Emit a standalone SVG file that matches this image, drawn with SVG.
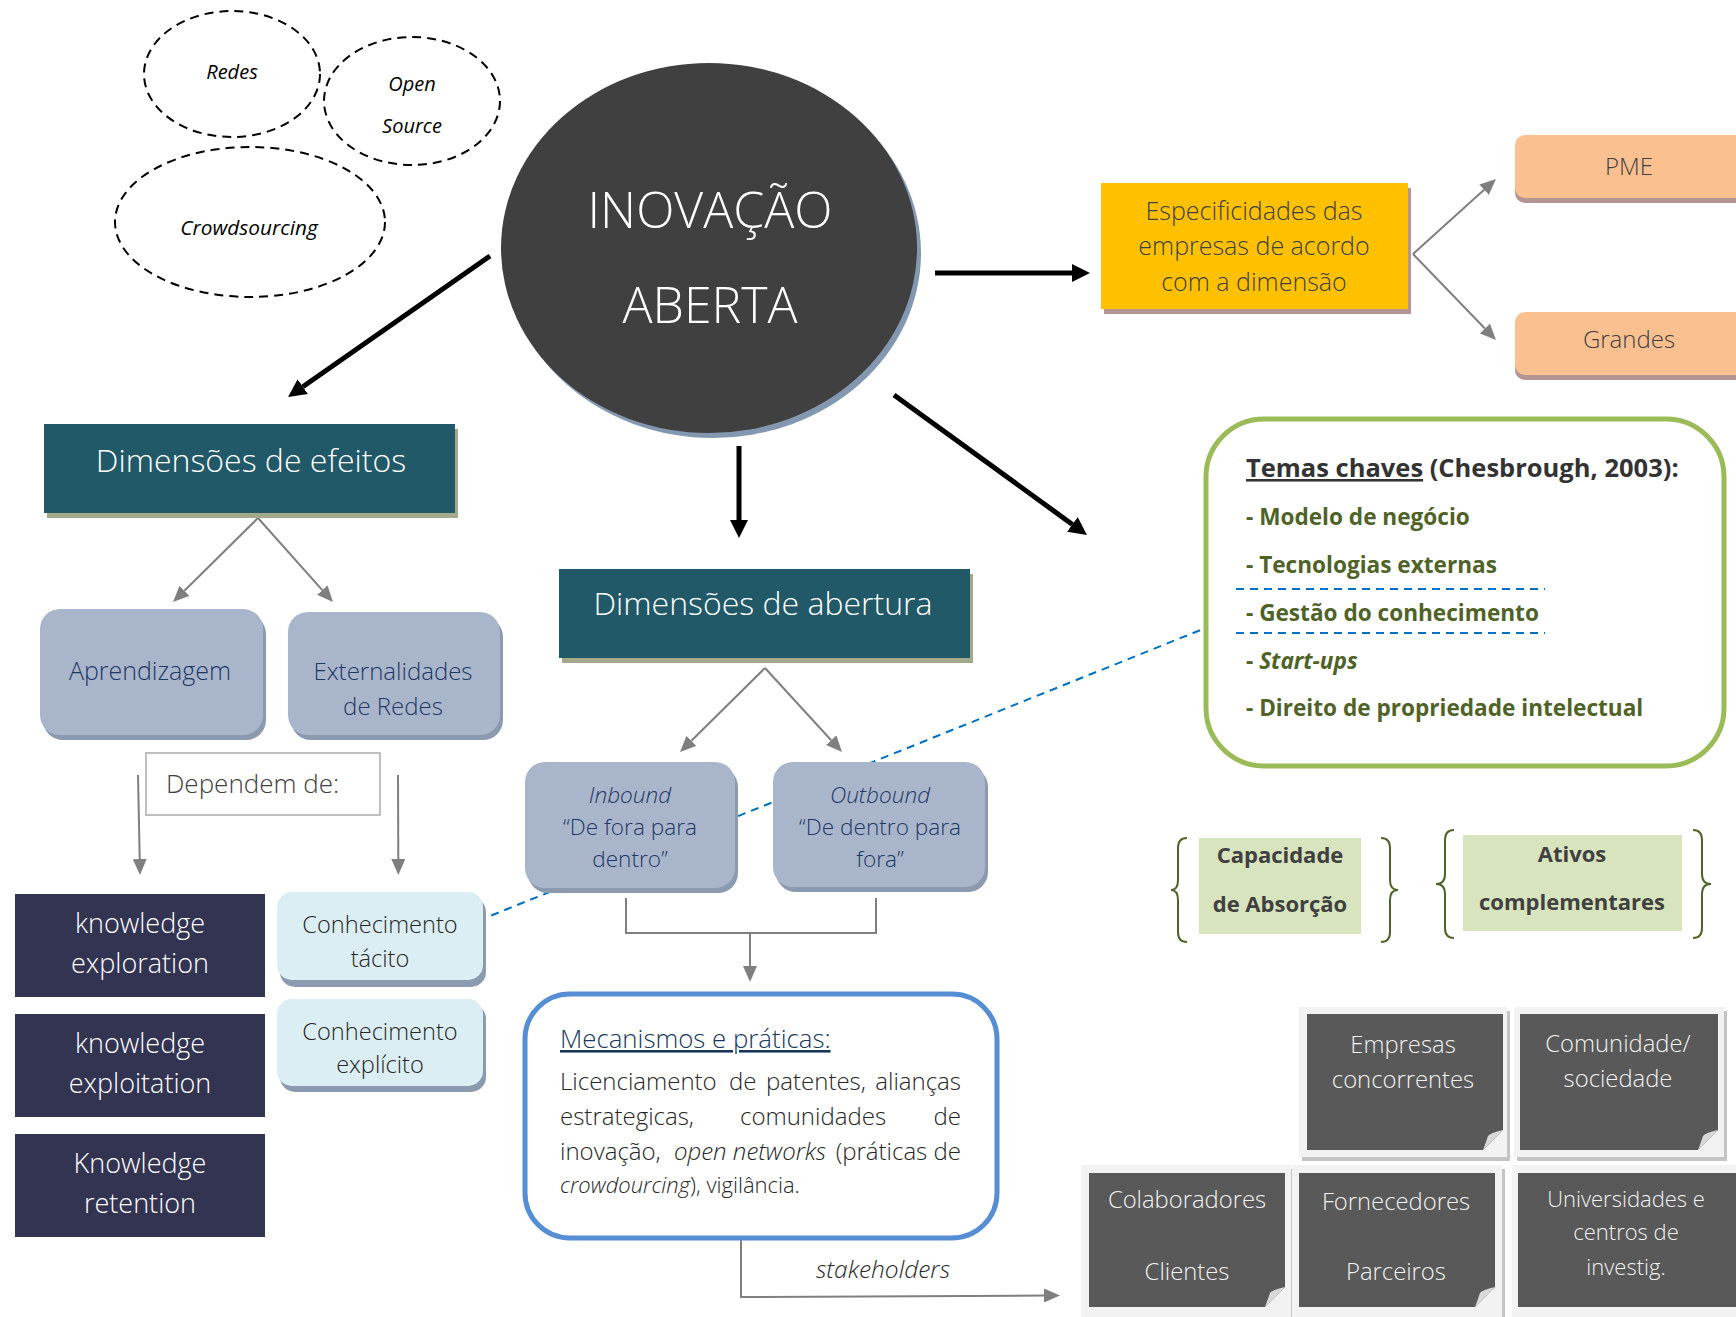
<svg xmlns="http://www.w3.org/2000/svg" width="1736" height="1317" viewBox="0 0 1736 1317">
<defs>
<marker id="ab" markerUnits="userSpaceOnUse" markerWidth="18" markerHeight="18" refX="0" refY="9" orient="auto"><path d="M0,0 L18,9 L0,18 z" fill="#000"/></marker>
<marker id="ag" markerUnits="userSpaceOnUse" markerWidth="16" markerHeight="14" refX="0" refY="7" orient="auto"><path d="M0,0 L16,7 L0,14 z" fill="#7F7F7F"/></marker>
<style>
.f{font-family:"Open Sans","Noto Sans","DejaVu Sans",sans-serif}
.l{font-weight:300}
.b{font-weight:700}
.i{font-style:italic}
.c{text-anchor:middle}
.dash{fill:#fff;stroke:#000;stroke-width:2;stroke-dasharray:9 6}
.blk{stroke:#000;stroke-width:5;fill:none;marker-end:url(#ab)}
.gry{stroke:#7F7F7F;stroke-width:2;fill:none}
.ga{marker-end:url(#ag)}
.teal{fill:#215968}
.tealsh{fill:#A5A98B}
.lav{fill:#A9B5CB}
.lavsh{fill:#8C9AB0}
.lb{fill:#DAEEF3}
.navy{fill:#333452}
.frame{fill:#F2F2F2}
.framesh{fill:#C4C4C4}
.dark{fill:#595959}
.fold{fill:#D9D9D9}
.st{fill:#F2F2F2;font-size:23.8px}
.brace{fill:none;stroke:#4F6228;stroke-width:2}
.ol{fill:#4F6228;font-size:22.6px}
.kn{fill:#fff;font-size:27px}
.cn{fill:#262626;font-size:23.6px}
.io{fill:#1F3864;font-size:22.6px}
</style>
</defs>

<g id="connectors">
<line x1="1213" y1="625" x2="485" y2="918" stroke="#0070C0" stroke-width="2" stroke-dasharray="8 6"/>
<line class="blk" x1="490" y1="256" x2="302.8" y2="386.7"/>
<line class="blk" x1="739" y1="446" x2="739" y2="520"/>
<line class="blk" x1="935" y1="273" x2="1072" y2="273"/>
<line class="blk" x1="894" y1="395" x2="1072.4" y2="524.4"/>
<line class="gry ga" x1="258" y1="518" x2="184.4" y2="590.8"/>
<line class="gry ga" x1="258" y1="518" x2="322.3" y2="590.1"/>
<line class="gry ga" x1="765" y1="668" x2="691.4" y2="740.8"/>
<line class="gry ga" x1="765" y1="668" x2="831.2" y2="740.2"/>
<line class="gry ga" x1="1413" y1="254" x2="1484.1" y2="189.7"/>
<line class="gry ga" x1="1413" y1="254" x2="1484.9" y2="328.5"/>
<line class="gry ga" x1="138" y1="775" x2="139.7" y2="859"/>
<line class="gry ga" x1="398" y1="775" x2="398.3" y2="859"/>
<path class="gry" d="M626,898 V933 H876 V898"/>
<line class="gry ga" x1="750" y1="933" x2="750" y2="966"/>
<path class="gry ga" d="M741,1240 V1297 L1044,1295.5"/>
<text class="f l i" x="883" y="1278" text-anchor="middle" font-size="24.5" fill="#262626">stakeholders</text>
</g>

<g id="redes">
<ellipse class="dash" cx="232" cy="74" rx="88" ry="63"/>
<text class="f i c" x="232" y="79" font-size="20" fill="#000">Redes</text>
</g>
<g id="opensource">
<ellipse class="dash" cx="412" cy="101" rx="88" ry="64"/>
<text class="f i c" x="412" y="91" font-size="20" fill="#000">Open</text>
<text class="f i c" x="412" y="133" font-size="20" fill="#000">Source</text>
</g>
<g id="crowdsourcing">
<ellipse class="dash" cx="250" cy="222" rx="135" ry="75"/>
<text class="f i c" x="249" y="235" font-size="20.8" fill="#000">Crowdsourcing</text>
</g>

<g id="inovacao">
<ellipse cx="713" cy="253" rx="208" ry="185" fill="#8497B0"/>
<ellipse cx="709" cy="248" rx="208" ry="185" fill="#404040"/>
<text class="f l c" x="710" y="228" font-size="50" fill="#fff">INOVAÇÃO</text>
<text class="f l c" x="710" y="323" font-size="50" fill="#fff">ABERTA</text>
</g>

<g id="especificidades">
<rect x="1104" y="188" width="307" height="126" fill="#B39594"/>
<rect x="1101" y="183" width="307" height="126" fill="#FFC000"/>
<text class="f l c" x="1254" y="220" font-size="25" fill="#404040">Especificidades das</text>
<text class="f l c" x="1254" y="255" font-size="25" fill="#404040">empresas de acordo</text>
<text class="f l c" x="1254" y="291" font-size="25" fill="#404040">com a dimensão</text>
</g>
<g id="pme">
<rect x="1515" y="140" width="240" height="63" rx="10" fill="#B39593"/>
<rect x="1515" y="135" width="240" height="63" rx="10" fill="#FAC090"/>
<text class="f l c" x="1629" y="175" font-size="24" fill="#404040">PME</text>
</g>
<g id="grandes">
<rect x="1515" y="317" width="240" height="63" rx="10" fill="#B39593"/>
<rect x="1515" y="312" width="240" height="63" rx="10" fill="#FAC090"/>
<text class="f l c" x="1629" y="348" font-size="24" fill="#404040">Grandes</text>
</g>

<g id="temas">
<rect x="1206" y="419" width="518" height="347" rx="58" fill="#fff" stroke="#9BBB59" stroke-width="5"/>
<text class="f b" x="1246" y="477" font-size="25.5" fill="#333"><tspan text-decoration="underline">Temas chaves</tspan> (Chesbrough, 2003):</text>
<text class="f b ol" x="1246" y="525">- Modelo de negócio</text>
<text class="f b ol" x="1246" y="573">- Tecnologias externas</text>
<text class="f b ol" x="1246" y="621">- Gestão do conhecimento</text>
<text class="f b ol" x="1246" y="669">- <tspan font-style="italic">Start-ups</tspan></text>
<text class="f b ol" x="1246" y="716">- Direito de propriedade intelectual</text>
<line x1="1236" y1="589" x2="1545" y2="589" stroke="#0070C0" stroke-width="2" stroke-dasharray="8 6"/>
<line x1="1236" y1="633" x2="1545" y2="633" stroke="#0070C0" stroke-width="2" stroke-dasharray="8 6"/>
</g>

<g id="efeitos">
<rect class="tealsh" x="47" y="429" width="411" height="89"/>
<rect class="teal" x="44" y="424" width="411" height="89"/>
<text class="f l c" x="251" y="472" font-size="32" fill="#fff">Dimensões de efeitos</text>
</g>
<g id="aprendizagem">
<rect class="lavsh" x="43" y="614" width="223" height="126" rx="20"/>
<rect class="lav" x="40" y="609" width="223" height="126" rx="20"/>
<text class="f l c" x="150" y="680" font-size="25" fill="#1F3864">Aprendizagem</text>
</g>
<g id="externalidades">
<rect class="lavsh" x="291" y="617" width="212" height="123" rx="20"/>
<rect class="lav" x="288" y="612" width="212" height="123" rx="20"/>
<text class="f l c" x="393" y="680" font-size="24" fill="#1F3864">Externalidades</text>
<text class="f l c" x="393" y="715" font-size="24" fill="#1F3864">de Redes</text>
</g>
<g id="dependem">
<rect x="146" y="753" width="234" height="62" fill="#fff" stroke="#BFBFBF" stroke-width="2"/>
<text class="f l" x="166" y="793" font-size="26" fill="#404040">Dependem de:</text>
</g>

<g id="exploration">
<rect class="navy" x="15" y="894" width="250" height="103"/>
<text class="f l c kn" x="140" y="933">knowledge</text>
<text class="f l c kn" x="140" y="973">exploration</text>
</g>
<g id="exploitation">
<rect class="navy" x="15" y="1014" width="250" height="103"/>
<text class="f l c kn" x="140" y="1053">knowledge</text>
<text class="f l c kn" x="140" y="1093">exploitation</text>
</g>
<g id="retention">
<rect class="navy" x="15" y="1134" width="250" height="103"/>
<text class="f l c kn" x="140" y="1173">Knowledge</text>
<text class="f l c kn" x="140" y="1213">retention</text>
</g>
<g id="tacito">
<rect class="lavsh" x="280" y="897" width="206" height="90" rx="15"/>
<rect class="lb" x="277" y="892" width="206" height="88" rx="15"/>
<text class="f l c cn" x="380" y="933">Conhecimento</text>
<text class="f l c cn" x="380" y="967">tácito</text>
</g>
<g id="explicito">
<rect class="lavsh" x="280" y="1004" width="206" height="88" rx="15"/>
<rect class="lb" x="277" y="999" width="206" height="87" rx="15"/>
<text class="f l c cn" x="380" y="1040">Conhecimento</text>
<text class="f l c cn" x="380" y="1073">explícito</text>
</g>

<g id="abertura">
<rect class="tealsh" x="562" y="574" width="411" height="89"/>
<rect class="teal" x="559" y="569" width="411" height="89"/>
<text class="f l c" x="763" y="615" font-size="32" fill="#fff">Dimensões de abertura</text>
</g>
<g id="inbound">
<rect class="lavsh" x="528" y="767" width="210" height="126" rx="20"/>
<rect class="lav" x="525" y="762" width="210" height="126" rx="20"/>
<text class="f l i c io" x="630" y="803">Inbound</text>
<text class="f l c io" x="630" y="835">“De fora para</text>
<text class="f l c io" x="630" y="867">dentro”</text>
</g>
<g id="outbound">
<rect class="lavsh" x="776" y="767" width="212" height="125" rx="20"/>
<rect class="lav" x="773" y="762" width="212" height="125" rx="20"/>
<text class="f l i c io" x="880" y="803">Outbound</text>
<text class="f l c io" x="880" y="835">“De dentro para</text>
<text class="f l c io" x="880" y="867">fora”</text>
</g>

<g id="mecanismos">
<rect x="525" y="994" width="472" height="244" rx="45" fill="#fff" stroke="#558ED5" stroke-width="5"/>
<text class="f l" x="560" y="1048" font-size="25.8" fill="#17375E" text-decoration="underline">Mecanismos e práticas:</text>
<g class="f l" font-size="24" fill="#262626">
<text x="560" y="1090">Licenciamento</text>
<text x="729" y="1090">de</text>
<text x="766" y="1090">patentes,</text>
<text x="961" y="1090" text-anchor="end">alianças</text>
<text x="560" y="1125">estrategicas,</text>
<text x="740" y="1125">comunidades</text>
<text x="961" y="1125" text-anchor="end">de</text>
<text x="560" y="1160">inovação,</text>
<text x="674" y="1160" font-style="italic">open networks</text>
<text x="961" y="1160" text-anchor="end">(práticas de</text>
<text x="560" y="1193" font-size="22"><tspan font-style="italic">crowdourcing</tspan>), vigilância.</text>
</g>
</g>

<g id="capacidade">
<rect x="1199" y="838" width="162" height="96" fill="#D7E4BD"/>
<text class="f b c" x="1280" y="863" font-size="22" fill="#404040">Capacidade</text>
<text class="f b c" x="1280" y="912" font-size="22" fill="#404040">de Absorção</text>
<path class="brace" d="M1187,838 Q1178,838 1178,848 V880 Q1178,890 1171,890 Q1178,890 1178,900 V932 Q1178,942 1187,942"/>
<path class="brace" d="M1381,838 Q1390,838 1390,848 V880 Q1390,890 1398,890 Q1390,890 1390,900 V932 Q1390,942 1381,942"/>
</g>
<g id="ativos">
<rect x="1463" y="835" width="219" height="96" fill="#D7E4BD"/>
<text class="f b c" x="1572" y="862" font-size="22" fill="#404040">Ativos</text>
<text class="f b c" x="1572" y="910" font-size="22" fill="#404040">complementares</text>
<path class="brace" d="M1454,830 Q1445,830 1445,840 V874 Q1445,884 1436,884 Q1445,884 1445,894 V928 Q1445,938 1454,938"/>
<path class="brace" d="M1693,830 Q1702,830 1702,840 V874 Q1702,884 1711,884 Q1702,884 1702,894 V928 Q1702,938 1693,938"/>
</g>

<g id="empresas">
<rect class="framesh" x="1302" y="1011" width="208" height="150"/>
<rect class="frame" x="1299" y="1007" width="208" height="150"/>
<path class="dark" d="M1307,1014 H1503 V1130 L1483,1150 H1307 Z"/>
<path class="fold" d="M1503,1130 Q1490,1133 1488,1136 Q1486,1142 1483,1150 Z"/>
<text class="f l c st" x="1403" y="1053">Empresas</text>
<text class="f l c st" x="1403" y="1088">concorrentes</text>
</g>
<g id="comunidade">
<rect class="framesh" x="1517" y="1011" width="210" height="150"/>
<rect class="frame" x="1514" y="1007" width="210" height="150"/>
<path class="dark" d="M1520,1014 H1718 V1130 L1698,1150 H1520 Z"/>
<path class="fold" d="M1718,1130 Q1705,1133 1703,1136 Q1701,1142 1698,1150 Z"/>
<text class="f l c st" x="1618" y="1052">Comunidade/</text>
<text class="f l c st" x="1618" y="1087">sociedade</text>
</g>
<g id="colaboradores">
<rect class="framesh" x="1084" y="1169" width="210" height="152"/>
<rect class="frame" x="1081" y="1165" width="210" height="152"/>
<path class="dark" d="M1089,1173 H1285 V1287 L1265,1307 H1089 Z"/>
<path class="fold" d="M1285,1287 Q1272,1290 1270,1293 Q1268,1299 1265,1307 Z"/>
<text class="f l c st" x="1187" y="1208">Colaboradores</text>
<text class="f l c st" x="1187" y="1280">Clientes</text>
</g>
<g id="fornecedores">
<rect class="framesh" x="1295" y="1169" width="210" height="152"/>
<rect class="frame" x="1292" y="1165" width="210" height="152"/>
<path class="dark" d="M1299,1173 H1495 V1287 L1475,1307 H1299 Z"/>
<path class="fold" d="M1495,1287 Q1482,1290 1480,1293 Q1478,1299 1475,1307 Z"/>
<text class="f l c st" x="1396" y="1210">Fornecedores</text>
<text class="f l c st" x="1396" y="1280">Parceiros</text>
</g>
<g id="universidades">
<rect class="framesh" x="1515" y="1169" width="230" height="152"/>
<rect class="frame" x="1512" y="1165" width="230" height="152"/>
<path class="dark" d="M1518,1173 H1740 V1307 H1518 Z"/>
<text class="f l c" x="1626" y="1207" font-size="22" fill="#F2F2F2">Universidades e</text>
<text class="f l c" x="1626" y="1240" font-size="22" fill="#F2F2F2">centros de</text>
<text class="f l c" x="1626" y="1275" font-size="22" fill="#F2F2F2">investig.</text>
</g>
</svg>
